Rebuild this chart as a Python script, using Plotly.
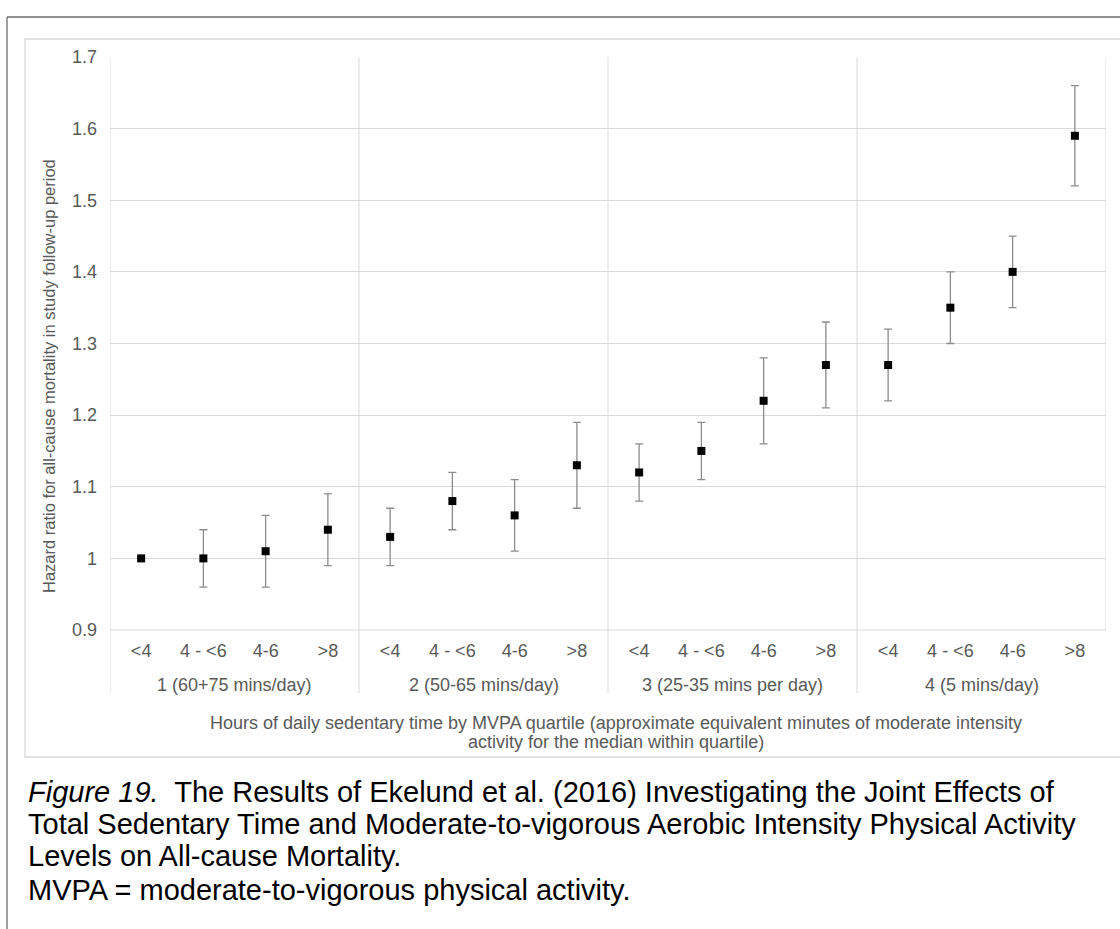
import math
import plotly.graph_objects as go

# Sedentary-time categories within each MVPA quartile
sedentary_labels = ["<4", "4 - <6", "4-6", ">8"] * 4
quartile_labels = [
    "1 (60+75 mins/day)",
    "2 (50-65 mins/day)",
    "3 (25-35 mins per day)",
    "4 (5 mins/day)",
]

# Hazard ratios with 95% confidence limits (reference group has none)
hazard_ratio = [1.00, 1.00, 1.01, 1.04,
                1.03, 1.08, 1.06, 1.13,
                1.12, 1.15, 1.22, 1.27,
                1.27, 1.35, 1.40, 1.59]
ci_low = [None, 0.96, 0.96, 0.99,
          0.99, 1.04, 1.01, 1.07,
          1.08, 1.11, 1.16, 1.21,
          1.22, 1.30, 1.35, 1.52]
ci_high = [None, 1.04, 1.06, 1.09,
           1.07, 1.12, 1.11, 1.19,
           1.16, 1.19, 1.28, 1.33,
           1.32, 1.40, 1.45, 1.66]

y_ticks = [0.9, 1.0, 1.1, 1.2, 1.3, 1.4, 1.5, 1.6, 1.7]
y_tick_text = ["0.9", "1", "1.1", "1.2", "1.3", "1.4", "1.5", "1.6", "1.7"]

W, H = 1120, 929
L, R, T, B = 110, 14, 57, 299
PW, PH = W - L - R, H - T - B


def px(x):
    return (x - L) / PW


def py(y):
    return (H - B - y) / PH


xs = list(range(len(hazard_ratio)))
err_plus = [math.nan if h is None else round(h - v, 4) for h, v in zip(ci_high, hazard_ratio)]
err_minus = [math.nan if lo is None else round(v - lo, 4) for lo, v in zip(ci_low, hazard_ratio)]

GRID = "#d9d9d9"
TEXT = "#595959"
FONT = "Liberation Sans, Arial, sans-serif"

fig = go.Figure()
fig.add_trace(go.Scatter(
    x=xs, y=hazard_ratio, mode="markers",
    marker=dict(symbol="square", size=8, color="black"),
    error_y=dict(type="data", symmetric=False, array=err_plus, arrayminus=err_minus,
                 color="#8c8c8c", thickness=1.3, width=4),
    showlegend=False, cliponaxis=False,
))

shapes = []
# quartile separators (plot area plus category band)
for b in [-0.5, 3.5, 7.5, 11.5]:
    shapes.append(dict(type="line", xref="x", yref="paper", x0=b, x1=b,
                       y0=py(693), y1=1, line=dict(color=GRID, width=1)))
shapes.append(dict(type="line", xref="x", yref="paper", x0=15.5, x1=15.5,
                   y0=0, y1=1, line=dict(color=GRID, width=1)))
# category axis line
shapes.append(dict(type="line", xref="paper", yref="paper", x0=0, x1=1, y0=0, y1=0,
                   line=dict(color=GRID, width=1)))
# chart area frame
shapes.append(dict(type="rect", xref="paper", yref="paper", x0=px(25), x1=px(1130),
                   y0=py(757), y1=py(39), line=dict(color=GRID, width=1.3)))
# outer figure frame
shapes.append(dict(type="line", xref="paper", yref="paper", x0=px(7), x1=px(1125),
                   y0=py(17), y1=py(17), line=dict(color="#6b6b6b", width=1.3)))
shapes.append(dict(type="line", xref="paper", yref="paper", x0=px(7), x1=px(7),
                   y0=py(17), y1=py(935), line=dict(color="#6b6b6b", width=1.3)))

annotations = []
for i, q in enumerate(quartile_labels):
    annotations.append(dict(x=4 * i + 1.5, y=py(685), xref="x", yref="paper",
                            text=q, showarrow=False, xanchor="center", yanchor="middle",
                            font=dict(family=FONT, size=18, color=TEXT)))

x_title_lines = [
    (723, "Hours of daily sedentary time by MVPA quartile (approximate equivalent minutes of moderate intensity"),
    (742, "activity for the median within quartile)"),
]
for yy, txt in x_title_lines:
    annotations.append(dict(x=px(616), y=py(yy), xref="paper", yref="paper", showarrow=False,
                            text=txt, xanchor="center", yanchor="middle",
                            font=dict(family=FONT, size=18, color=TEXT)))

annotations.append(dict(
    x=px(49), y=py(376), xref="paper", yref="paper", showarrow=False,
    text="Hazard ratio for all-cause mortality in study follow-up period",
    textangle=-90, xanchor="center", yanchor="middle",
    font=dict(family=FONT, size=16.5, color=TEXT)))

caption_lines = [
    (792, "<i>Figure 19.</i>  The Results of Ekelund et al. (2016) Investigating the Joint Effects of"),
    (824, "Total Sedentary Time and Moderate-to-vigorous Aerobic Intensity Physical Activity"),
    (856, "Levels on All-cause Mortality."),
    (890, "MVPA = moderate-to-vigorous physical activity."),
]
for yy, txt in caption_lines:
    annotations.append(dict(x=px(26), y=py(yy), xref="paper", yref="paper",
                            text=txt, showarrow=False, xanchor="left", yanchor="middle",
                            font=dict(family=FONT, size=29, color="black")))

fig.update_layout(
    width=W, height=H,
    margin=dict(l=L, r=R, t=T, b=B),
    paper_bgcolor="white", plot_bgcolor="white",
    font=dict(family=FONT, color=TEXT),
    shapes=shapes, annotations=annotations,
    xaxis=dict(range=[-0.5, 15.5], tickmode="array", tickvals=xs, ticktext=sedentary_labels,
               showgrid=False, zeroline=False, showline=False, ticks="",
               ticklabelstandoff=8, tickfont=dict(family=FONT, size=18, color=TEXT),
               fixedrange=True),
    yaxis=dict(range=[0.9, 1.7], tickmode="array", tickvals=y_ticks, ticktext=y_tick_text,
               showgrid=True, gridcolor=GRID, gridwidth=1, zeroline=False, showline=False,
               ticks="", ticklabelstandoff=12, tickfont=dict(family=FONT, size=18, color=TEXT),
               fixedrange=True),
)

fig.write_html("out.html")
